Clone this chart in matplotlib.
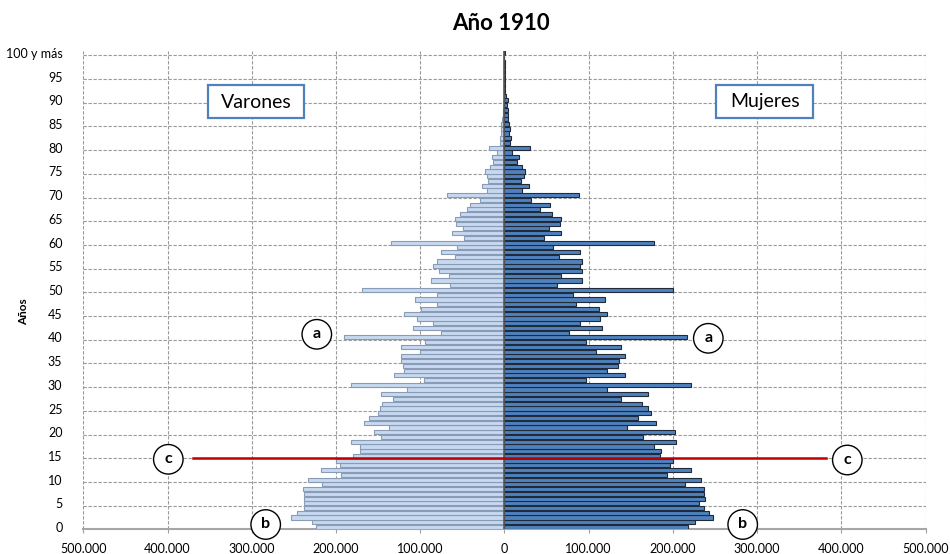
import matplotlib
matplotlib.use("Agg")
import matplotlib.pyplot as plt
from matplotlib.patches import Ellipse, Rectangle
from matplotlib.ticker import FuncFormatter, FixedLocator
import numpy as np

plt.rcParams['font.family'] = ['Lato', 'DejaVu Sans']

ages = list(range(0, 101))

# Varones (thousands)
varones = [
    224, 229, 253, 246, 238, 237.5, 237.5, 237.5, 239.5, 216,
    233.6, 193.7, 217.8, 195.6, 200, 180, 172, 172, 182, 146.6,
    154.5, 137.5, 167, 161, 150, 148, 145, 132, 147, 116,
    182.6, 95.7, 131.2, 119.8, 120.6, 123.3, 123.3, 100.8, 123.3, 94.5,
    190.1, 74.7, 109.1, 85.0, 103.6, 119.4, 99.6, 79.8, 105.9, 79.8,
    169.1, 64.0, 86.6, 65.6, 77.5, 84.2, 80.2, 58.5, 75.5, 55.7,
    134.9, 47.4, 62.5, 49.4, 57.3, 58.9, 52.2, 43.9, 40.7, 28.9,
    67.6, 20.9, 26.5, 19.4, 20.9, 22.5, 17.0, 13.0, 14.6, 8.3,
    18.2, 5.1, 5.5, 3.9, 3.6, 3.6, 2.4, 1.6, 1.2, 0.8,
    0.6, 0.4, 0.3, 0.3, 0.2, 0.2, 0.1, 0.1, 0.1, 0.1,
    0.2,
]

# Mujeres (thousands)
mujeres = [
    218, 226, 248, 243, 237, 231, 238, 237, 237, 214,
    234, 193, 221, 197, 200, 185, 186.5, 177.5, 203.5, 164,
    202, 146, 180, 159, 173.5, 170, 163, 139, 170, 122,
    222, 97.2, 143.5, 122.1, 135.2, 136.4, 143.5, 109, 138, 97.2,
    217, 76.3, 115.8, 89.7, 113.0, 122.1, 111.9, 85.4, 119.8, 81.8,
    199.6, 62.8, 92.1, 67.2, 92.1, 89.7, 92.1, 64.4, 89.7, 58.1,
    177.5, 47.4, 66.8, 53, 66, 66.8, 56.5, 42.3, 54.2, 31.6,
    88.1, 20.9, 28.9, 20.2, 23.3, 24.9, 20.9, 14.6, 17.0, 9.5,
    30.4, 6.7, 8.3, 5.5, 6.7, 5.1, 4.0, 4.3, 4.3, 3.2,
    4.0, 1.5, 1.2, 0.9, 0.7, 0.5, 0.4, 0.3, 0.2, 0.1,
    0.3,
]

tick_ages = list(range(0, 101, 5))
tick_labels = [str(a) for a in tick_ages[:-1]] + ["100 y más"]
x_ticks = list(range(-500000, 500001, 100000))

W, H = 950, 554
fig = plt.figure(figsize=(W / 100, H / 100), dpi=100)
ax = fig.add_axes([83.3 / W, 1 - 529.4 / H, (925.5 - 83.3) / W, (529.4 - 50.6) / H])

y = np.array(ages)
v = np.array(varones) * 1000
m = np.array(mujeres) * 1000

ax.barh(y, -v, height=0.88, color='#C6D9F1', edgecolor='#8A9BB5', linewidth=0.8, zorder=3)
ax.barh(y, m, height=0.88, color='#4F81BD', edgecolor='#1F2A3A', linewidth=0.8, zorder=3)

ax.set_xlim(-500000, 500000)
ax.set_ylim(-0.5, 100.5)

ax.set_xticks(x_ticks)
ax.xaxis.set_major_formatter(FuncFormatter(lambda val, pos: f"{abs(int(round(val))):,}".replace(",", ".")))
ax.set_yticks(tick_ages)
ax.set_yticklabels(tick_labels)
ax.yaxis.set_minor_locator(FixedLocator([a - 0.5 for a in tick_ages[1:]]))

ax.tick_params(axis='y', which='both', length=0, pad=15, labelsize=9)
ax.tick_params(axis='x', which='major', length=3, width=0.8, color='#A0A0A0', labelsize=9, pad=7)

ax.grid(axis='x', which='major', color='#9A9A9A', linestyle=(0, (3, 1.5)), linewidth=0.8, zorder=0)
ax.grid(axis='y', which='minor', color='#9A9A9A', linestyle=(0, (3, 1.5)), linewidth=0.8, zorder=0)
ax.grid(axis='y', which='major', visible=False)

for s in ['top', 'right', 'left']:
    ax.spines[s].set_visible(False)
ax.spines['bottom'].set_color('#A6A6A6')
ax.spines['bottom'].set_linewidth(1.5)

# vertical axis line at zero
ax.axvline(0, color='#595959', linewidth=1.2, zorder=4)

fig.text(500.5 / W, 1 - 23 / H, "Año 1910", ha='center', va='center', fontsize=16, fontweight='bold')
fig.text(23.3 / W, 1 - 312 / H, "Años", ha='center', va='center', rotation=90, fontsize=8.5, fontweight='bold')

# text boxes
for (x0, x1, label) in [(208.2, 304.2, "Varones"), (716.2, 813.1, "Mujeres")]:
    rect = Rectangle((x0 / W, 1 - 118.3 / H), (x1 - x0) / W, (118.3 - 85) / H,
                     transform=fig.transFigure, facecolor='white', edgecolor='#4F81BD',
                     linewidth=1.6, zorder=10)
    fig.add_artist(rect)
    fig.text((x0 + x1) / 2 / W, 1 - 102 / H, label, ha='center', va='center', fontsize=14, zorder=11)

# red line c
fig.add_artist(plt.Line2D([193.3 / W, 826 / W], [1 - 457.7 / H, 1 - 457.7 / H],
                          transform=fig.transFigure, color='#C00000', linewidth=1.8, zorder=10))

# circled letters
circles = [(316.8, 334.3, 'a'), (708.3, 338.3, 'a'), (168.3, 459.3, 'c'), (847.3, 460, 'c'),
           (265.7, 524.5, 'b'), (742.7, 524.5, 'b')]
for cx, cy, t in circles:
    e = Ellipse((cx / W, 1 - cy / H), 29.5 / W, 29.5 / H, transform=fig.transFigure,
                facecolor='white', edgecolor='black', linewidth=1.0, zorder=12)
    fig.add_artist(e)
    fig.text(cx / W, 1 - cy / H, t, ha='center', va='center', fontsize=11.5, fontweight='bold', zorder=13)

fig.savefig("out.png", dpi=100)
